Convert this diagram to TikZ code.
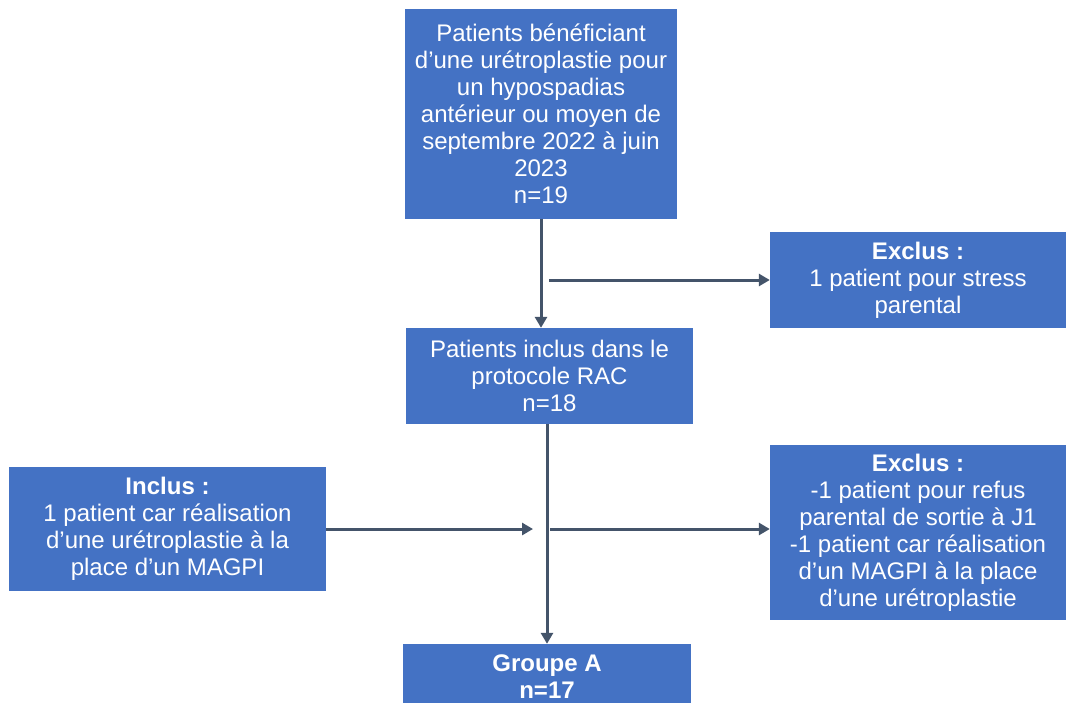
\documentclass[tikz,border=0pt]{standalone}
\usepackage{fontspec}
\setmainfont{Liberation Sans}
\usetikzlibrary{arrows.meta,calc}
\definecolor{boxblue}{HTML}{4472C4}
\definecolor{arrowgray}{HTML}{44546A}
\begin{document}
\begin{tikzpicture}[x=1pt,y=-1pt,
  box/.style={rectangle,fill=boxblue,text=white,align=center,inner sep=0pt,
    font=\fontsize{24}{27}\selectfont},
  conn/.style={draw=arrowgray,line width=3pt,-{Triangle[length=11pt,width=12pt]}}]
\clip (0,0) rectangle (1070,702);
\fill[white] (0,0) rectangle (1070,702);
\node[box,minimum width=272pt,minimum height=210pt] (b1) at (541,113.5)
  {Patients bénéficiant\\d’une urétroplastie pour\\un hypospadias\\antérieur ou moyen de\\septembre 2022 à juin\\2023\\n=19};
\node[box,minimum width=287pt,minimum height=96pt] (b2) at (549.5,376)
  {Patients inclus dans le\\protocole RAC\\n=18};
\node[box,minimum width=296pt,minimum height=96pt] (ex1) at (918,280)
  {\textbf{Exclus :}\\1 patient pour stress\\parental};
\node[box,minimum width=317pt,minimum height=124pt] (inc) at (167.5,529)
  {\textbf{Inclus :}\\1 patient car réalisation\\d’une urétroplastie à la\\place d’un MAGPI};
\node[box,minimum width=296pt,minimum height=175pt] (ex2) at (918,532.5)
  {\textbf{Exclus :}\\-1 patient pour refus\\parental de sortie à J1\\-1 patient car réalisation\\d’un MAGPI à la place\\d’une urétroplastie};
\node[box,minimum width=288pt,minimum height=66pt] (ga) at (547,677)
  {\textbf{Groupe A}\\\textbf{n=17}};
\coordinate (j1) at (549,280);
\coordinate (j2) at (533,529);
\coordinate (j3) at (550,529);
\draw[conn] (b1.south) -- (b1.south |- b2.north);
\draw[conn] (j1) -- (ex1.west);
\draw[conn] (ga.north |- b2.south) -- (ga.north);
\draw[conn] (inc.east |- j2) -- (j2);
\draw[conn] (j3) -- (j3 -| ex2.west);
\end{tikzpicture}
\end{document}
